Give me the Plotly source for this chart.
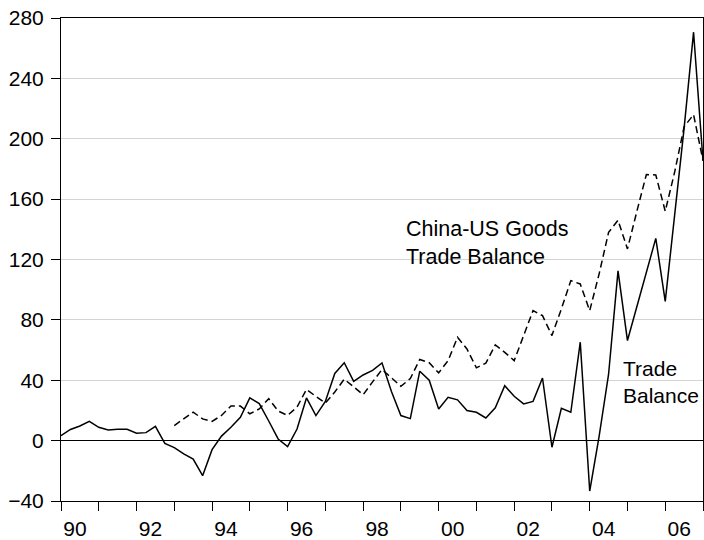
import plotly.graph_objects as go

# Quarterly observations, 1990Q1 .. 2007Q1
start_year = 1990
trade_balance = [
    3.3, 7.4, 9.7, 12.8, 8.8, 7.1, 7.5, 7.5, 4.9, 5.3, 9.5, -1.8,
    -4.6, -8.8, -12.2, -23.2, -6.0, 3.0, 8.9, 15.5, 28.3, 24.5, 13.0, 1.1,
    -4.0, 7.7, 28.3, 16.6, 26.0, 44.5, 51.6, 39.2, 43.5, 46.5, 51.5, 32.5,
    16.6, 14.6, 46.0, 40.0, 21.0, 28.7, 27.0, 19.9, 18.8, 15.0, 21.7, 36.4,
    29.4, 24.3, 26.0, 41.5, -4.4, 21.4, 18.8, 65.2, -33.4, 3.0, 44.0, 112.5,
    66.3, 89.0, 111.0, 134.0, 92.3, 148.0, 207.0, 270.6, 185.5,
]
china_us_goods = [None] * 12 + [
    10.0, 14.4, 18.9, 14.4, 12.7, 16.7, 22.9, 22.9, 17.8, 21.0, 27.8, 19.6,
    16.7, 22.2, 34.0, 29.3, 24.9, 32.2, 40.7, 35.6, 30.4, 38.9, 47.1, 41.6,
    36.0, 41.1, 53.8, 51.6, 44.9, 53.0, 68.5, 60.7, 48.2, 51.3, 63.4, 58.5,
    53.0, 69.6, 86.1, 82.8, 69.6, 87.3, 106.0, 103.8, 86.1, 110.5, 138.0, 146.0,
    127.0, 152.0, 176.3, 176.0, 152.0, 178.0, 208.0, 216.0, 185.5,
]
year_ticks = list(range(1990, 2008))
label_years = list(range(1990, 2007, 2))
label_text = ["90", "92", "94", "96", "98", "00", "02", "04", "06"]
y_ticks = [-40, 0, 40, 80, 120, 160, 200, 240, 280]

x = [start_year + i / 4 for i in range(len(trade_balance))]

FONT = "Liberation Sans, Arial, sans-serif"

fig = go.Figure()
fig.add_trace(go.Scatter(x=x, y=china_us_goods, mode="lines",
                         line=dict(color="black", width=1.5, dash="7px,4px"),
                         showlegend=False, hoverinfo="skip"))
fig.add_trace(go.Scatter(x=x, y=trade_balance, mode="lines",
                         line=dict(color="black", width=1.5),
                         showlegend=False, hoverinfo="skip"))
fig.add_trace(go.Scatter(x=[], y=[], xaxis="x2", yaxis="y", showlegend=False))

fig.update_layout(
    width=704, height=540,
    margin=dict(l=61, r=1, t=18, b=39, autoexpand=False),
    paper_bgcolor="white", plot_bgcolor="white",
    font=dict(family=FONT, size=21, color="black"),
    xaxis=dict(range=[1990, 2007], tickvals=year_ticks, showticklabels=False,
               ticks="outside", ticklen=9, tickcolor="black", tickwidth=1,
               showline=True, linecolor="black", linewidth=1, mirror=True,
               showgrid=False, zeroline=False, automargin=False),
    xaxis2=dict(range=[1990, 2007], overlaying="x", anchor="y", side="bottom",
                tickvals=[yr + 0.37 for yr in label_years], ticktext=label_text,
                ticks="outside", ticklen=9, tickcolor="rgba(0,0,0,0)",
                showline=False, showgrid=False, zeroline=False, automargin=False,
                tickfont=dict(family=FONT, size=21, color="black")),
    yaxis=dict(range=[-40, 280], tickvals=y_ticks,
               ticks="outside", ticklen=9, tickcolor="black", tickwidth=1,
               ticklabelstandoff=3,
               showline=True, linecolor="black", linewidth=1, mirror=True,
               showgrid=True, gridcolor="#d4d4d4", gridwidth=1,
               zeroline=True, zerolinecolor="black", zerolinewidth=1,
               automargin=False,
               tickfont=dict(family=FONT, size=21, color="black")),
    annotations=[
        dict(x=1999.08, y=149.5, xref="x", yref="y", xanchor="left", yanchor="top",
             align="left", showarrow=False,
             text="China-US Goods<br>Trade Balance",
             font=dict(family=FONT, size=21.5, color="black")),
        dict(x=2004.84, y=56.5, xref="x", yref="y", xanchor="left", yanchor="top",
             align="left", showarrow=False,
             text="Trade<br>Balance",
             font=dict(family=FONT, size=21, color="black")),
    ],
)

fig.write_html("out.html",
               config={"displayModeBar": False},
               post_script="document.body.style.margin='0px';document.body.style.overflow='hidden';")
